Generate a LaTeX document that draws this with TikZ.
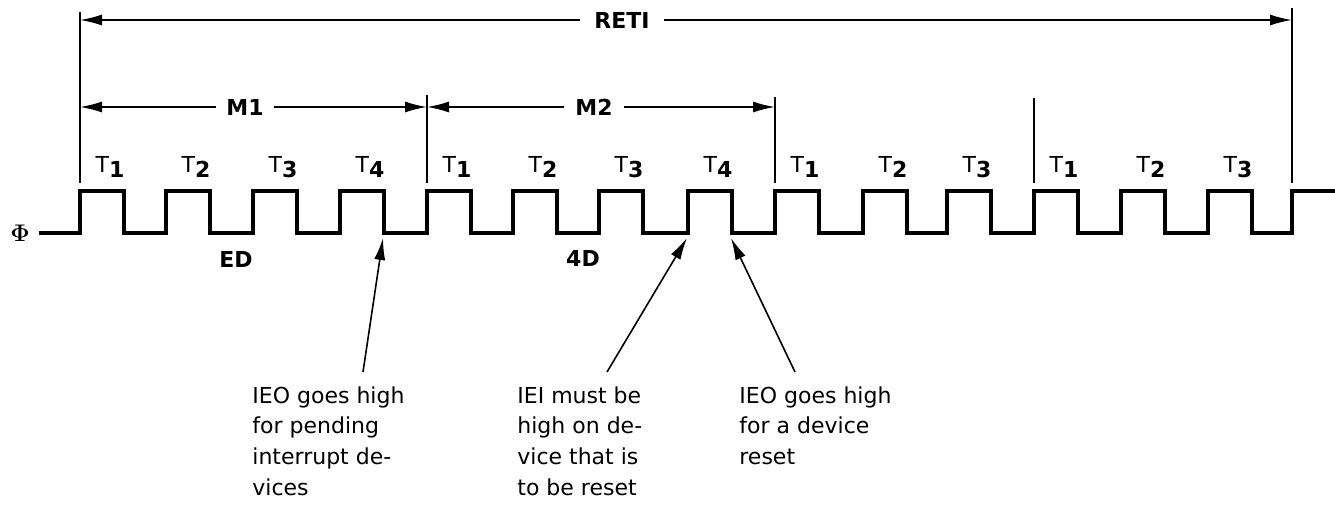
\documentclass[tikz,border=0pt]{standalone}
\usepackage{fontspec}
\setmainfont{DejaVu Sans}
\usepackage{tikz}
\usetikzlibrary{arrows.meta,positioning}
\tikzset{
  tdclock/.style={line width=2pt, line join=miter},
  tdmark/.style={line width=0.85pt},
  tdarrow/.style={-{Latex[length=11pt,width=5.5pt]}, line width=0.8pt},
  tdlabel/.style={font=\fontsize{11}{12}\selectfont\bfseries, inner sep=0pt},
  tdtick/.style={font=\fontsize{11}{12}\selectfont, inner sep=0pt},
  tdnote/.style={font=\fontsize{11}{15.4}\selectfont, align=left, anchor=north west, inner sep=0pt},
}
\newcommand{\TT}[1]{T\raisebox{-0.45ex}{\bfseries #1}}

\begin{document}
\begin{tikzpicture}[x=0.5pt, y=-0.5pt]
  \useasboundingbox (0,0) rectangle (1335,504);

  % Clock
  \node[font=\fontsize{13}{14}\selectfont\boldmath] (phi) at (20,233) {$\Phi$};
  \draw[tdclock] (39,233)
    \foreach \x in {80,166,253,340,427,513,599,688,775,863,947,1034,1121,1208}
      { -- (\x,233) -- (\x,191) -- ({\x+44},191) -- ({\x+44},233) }
    -- (1292,233) -- (1292,191) -- (1335,191);

  % Cycle markers
  \foreach \mx/\my in {80/12, 427/95, 775/97, 1034/98, 1292/8}
    \draw[tdmark] (\mx,\my) -- (\mx,183);

  % States
  \foreach \x/\n in {80/1,166/2,253/3,340/4,427/1,513/2,599/3,688/4,
                     775/1,863/2,947/3,1034/1,1121/2,1208/3}
    \node[tdtick] (t\x) at ({\x+30},167) {\TT{\n}};

  % RETI and machine cycles
  \coordinate (retiL) at (80,20);
  \coordinate (retiR) at (1292,20);
  \node[tdlabel, inner xsep=7pt] (reti) at (622,20) {RETI};
  \draw[tdarrow] (reti.west) -- (retiL);
  \draw[tdarrow] (reti.east) -- (retiR);

  \coordinate (m1L) at (80,107);
  \coordinate (m1R) at (427,107);
  \node[tdlabel, inner xsep=5pt] (m1) at (245,107) {M1};
  \draw[tdarrow] (m1.west) -- (m1L);
  \draw[tdarrow] (m1.east) -- (m1R);

  \coordinate (m2L) at (427,107);
  \coordinate (m2R) at (775,107);
  \node[tdlabel, inner xsep=5.5pt] (m2) at (594,107) {M2};
  \draw[tdarrow] (m2.west) -- (m2L);
  \draw[tdarrow] (m2.east) -- (m2R);

  % Opcode bytes
  \node[tdlabel] (ed) at (236,259) {ED};
  \node[tdlabel] (fourd) at (583,258) {4D};

  % Notes
  \node[tdnote] (note1) at (252,386) {IEO goes high\\for pending\\interrupt de-\\vices};
  \node[tdnote] (note2) at (517,386) {IEI must be\\high on de-\\vice that is\\to be reset};
  \node[tdnote] (note3) at (739,386) {IEO goes high\\for a device\\reset};

  \coordinate (fe4) at (383,238);
  \coordinate (re8) at (687,238);
  \coordinate (fe8) at (731,238);
  \draw[tdarrow] ([xshift=55.5pt,yshift=7pt]note1.north west) -- (fe4);
  \draw[tdarrow] ([xshift=45pt,yshift=7pt]note2.north west) -- (re8);
  \draw[tdarrow] ([xshift=28pt,yshift=7pt]note3.north west) -- (fe8);
\end{tikzpicture}
\end{document}
